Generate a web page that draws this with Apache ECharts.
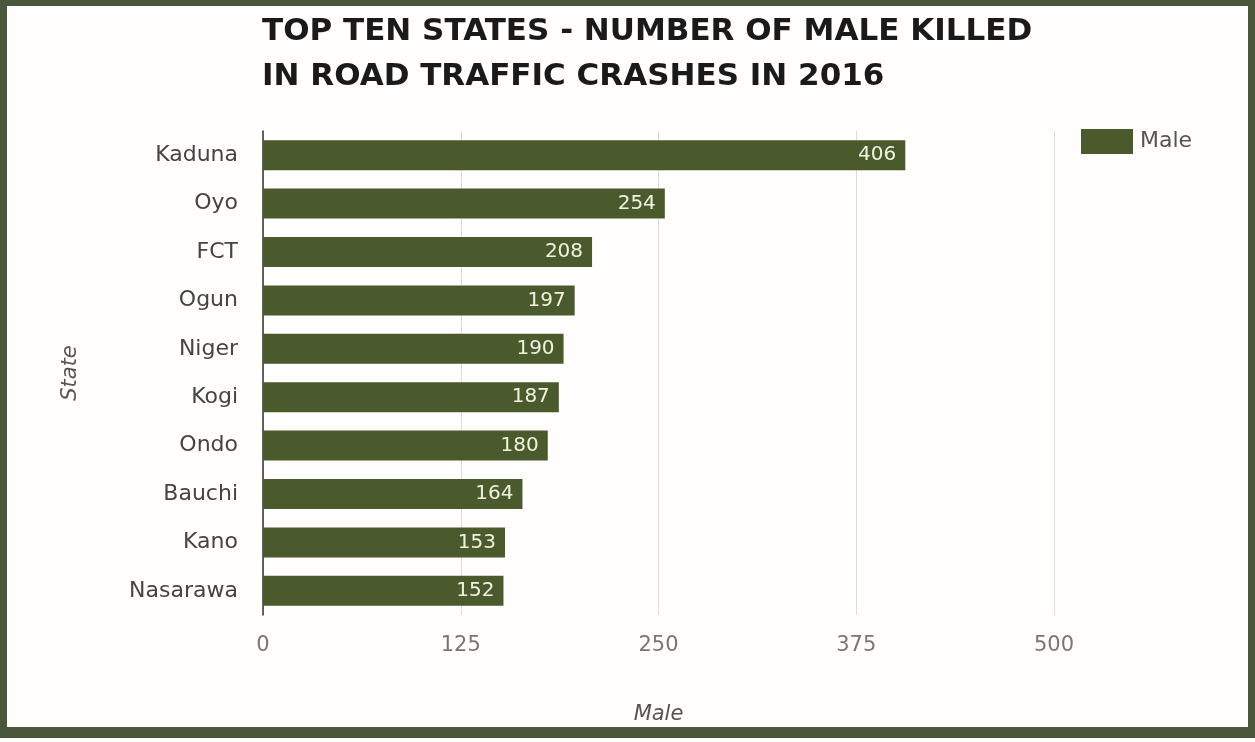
<!DOCTYPE html>
<html><head><meta charset="utf-8">
<script src="https://cdn.jsdelivr.net/npm/echarts@6/dist/echarts.min.js"></script>
<style>
html,body{margin:0;padding:0;background:#fff;}
#frame{position:absolute;left:0;top:0;width:1255px;height:738px;box-sizing:border-box;border-style:solid;border-color:#4a573a;border-width:6px 7px 11px 7px;background:#fffefd;}
#c{position:absolute;left:0;top:0;width:1255px;height:742px;}
</style></head>
<body>
<div id="frame"></div>
<div id="c"></div>
<script>
const categories = ["Kaduna","Oyo","FCT","Ogun","Niger","Kogi","Ondo","Bauchi","Kano","Nasarawa"];
const maleValues = [406,254,208,197,190,187,180,164,153,152];
const xTicks = [0,125,250,375,500];

const FONT = 'DejaVu Sans, Verdana, sans-serif';
const chart = echarts.init(document.getElementById('c'), null, {renderer:'canvas'});
chart.setOption({
  backgroundColor:'transparent',
  animation:false,
  title:{
    text:'TOP TEN STATES - NUMBER OF MALE KILLED\nIN ROAD TRAFFIC CRASHES IN 2016',
    left:262, top:9, padding:0,
    textStyle:{fontFamily:FONT,fontWeight:'bold',fontSize:31,color:'#1a1a1a',lineHeight:45}
  },
  legend:{
    data:['Male'], left:1081, top:129, itemWidth:52, itemHeight:25, itemGap:10, padding:0,
    icon:'rect',
    textStyle:{fontFamily:FONT,fontSize:22,color:'#555',padding:[3,0,0,2]}
  },
  grid:{left:263, right:201, top:131, bottom:127, containLabel:false},
  xAxis:{
    type:'value', min:xTicks[0], max:xTicks[xTicks.length-1], interval:xTicks[1]-xTicks[0],
    name:'Male', nameLocation:'middle', nameGap:89,
    nameTextStyle:{fontFamily:FONT,fontStyle:'italic',fontSize:21,color:'#555'},
    axisLine:{show:false}, axisTick:{show:false},
    axisLabel:{margin:20,fontFamily:FONT,fontSize:21,color:'#777'},
    splitLine:{show:true,lineStyle:{color:'#dcdcdc',width:1}}
  },
  yAxis:{
    type:'category', data:categories, inverse:true,
    name:'State', nameLocation:'middle', nameGap:182, nameRotate:90,
    nameTextStyle:{fontFamily:FONT,fontStyle:'italic',fontSize:21,color:'#555'},
    axisLine:{show:true,lineStyle:{color:'#333',width:1.5}}, axisTick:{show:false},
    axisLabel:{margin:25,fontFamily:FONT,fontSize:22,color:'#444'}
  },
  series:[{
    name:'Male', type:'bar', data:maleValues, barCategoryGap:'38%',
    itemStyle:{color:'#4b5a2c'},
    label:{show:true,position:'insideRight',distance:9,fontFamily:FONT,fontSize:20,color:'#f0f2e0'}
  }]
});
</script>
</body></html>
